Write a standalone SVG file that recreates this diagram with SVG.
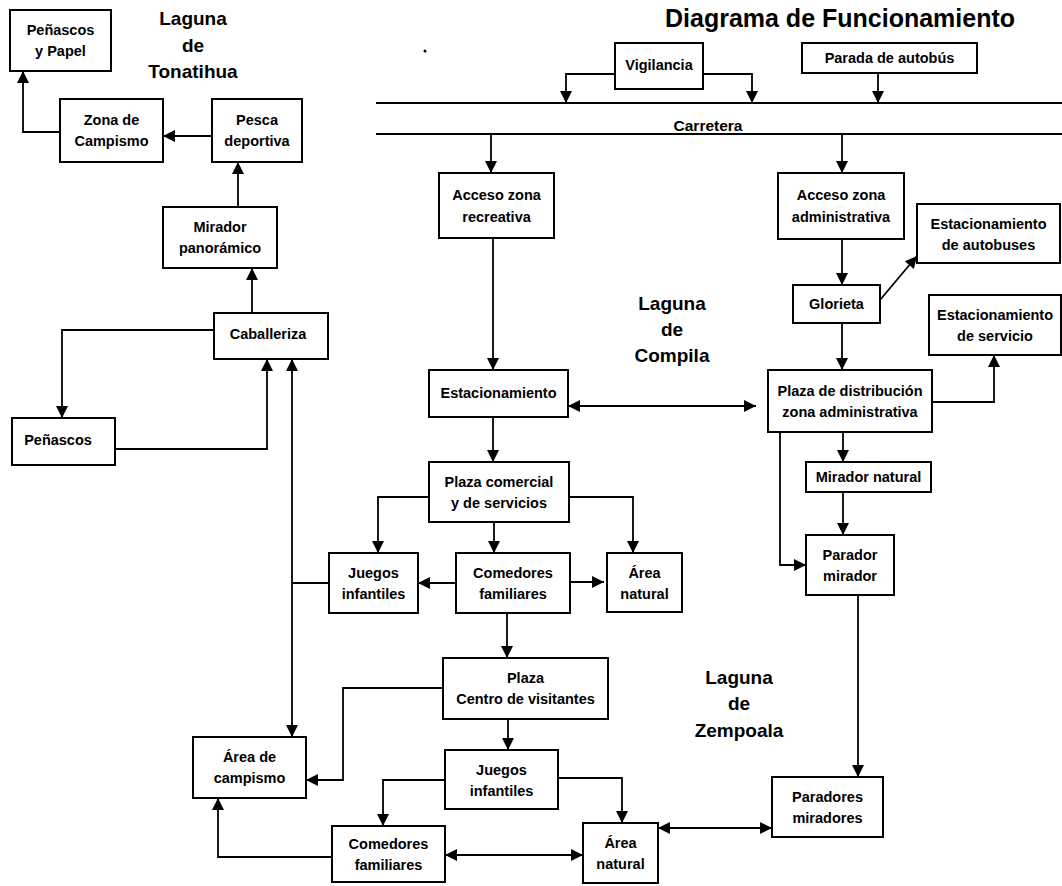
<svg xmlns="http://www.w3.org/2000/svg" width="1062" height="886" viewBox="0 0 1062 886">
<style>
.bx{fill:#fff;stroke:#000;stroke-width:2}
.t{font-family:"Liberation Sans",Arial,sans-serif;font-weight:bold;font-size:14.5px;text-anchor:middle;fill:#000}
.lg{font-family:"Liberation Sans",Arial,sans-serif;font-weight:bold;font-size:19px;text-anchor:middle;fill:#000}
.c{fill:none;stroke:#000;stroke-width:1.8}
</style>
<defs>
<marker id="a" markerUnits="userSpaceOnUse" markerWidth="12" markerHeight="12" refX="12" refY="6" orient="auto"><path d="M0,0 L12,6 L0,12 z" fill="#000"/></marker>
<marker id="s" markerUnits="userSpaceOnUse" markerWidth="12" markerHeight="12" refX="12" refY="6" orient="auto-start-reverse"><path d="M0,0 L12,6 L0,12 z" fill="#000"/></marker>
</defs>
<rect width="1062" height="886" fill="#fff"/>
<text x="840" y="27" font-family="Liberation Sans,Arial,sans-serif" font-weight="bold" font-size="25" text-anchor="middle" textLength="350" lengthAdjust="spacingAndGlyphs">Diagrama de Funcionamiento</text>
<g id="labels">
<text class="lg" x="193" y="25">Laguna</text><text class="lg" x="193" y="52">de</text><text class="lg" x="193" y="78">Tonatihua</text>
<text class="lg" x="672" y="310">Laguna</text><text class="lg" x="672" y="336">de</text><text class="lg" x="672" y="362">Compila</text>
<text class="lg" x="739" y="684">Laguna</text><text class="lg" x="739" y="710">de</text><text class="lg" x="739" y="737">Zempoala</text>
<circle cx="425" cy="51" r="1.5" fill="#000"/>
</g>
<g id="carretera">
<line x1="376" y1="103" x2="1062" y2="103" stroke="#000" stroke-width="2"/>
<line x1="376" y1="134" x2="1062" y2="134" stroke="#000" stroke-width="2"/>
<text class="t" x="708" y="131" style="font-size:15.5px">Carretera</text>
</g>
<g id="connectors">
<path class="c" d="M60,132 H23 V71" marker-end="url(#a)"/>
<path class="c" d="M212,136 H163" marker-end="url(#a)"/>
<path class="c" d="M238,207 V162" marker-end="url(#a)"/>
<path class="c" d="M252,313 V268" marker-end="url(#a)"/>
<path class="c" d="M214,330 H62 V418" marker-end="url(#a)"/>
<path class="c" d="M115,449 H267 V359" marker-end="url(#a)"/>
<path class="c" d="M292,359 V737" marker-start="url(#s)" marker-end="url(#s)"/>
<path class="c" d="M329,583 H292"/>
<path class="c" d="M615,74 H566 V103" marker-end="url(#a)"/>
<path class="c" d="M703,74 H752 V103" marker-end="url(#a)"/>
<path class="c" d="M878,73 V103" marker-end="url(#a)"/>
<path class="c" d="M491,134 V173" marker-end="url(#a)"/>
<path class="c" d="M842,134 V173" marker-end="url(#a)"/>
<path class="c" d="M493,238 V370" marker-end="url(#a)"/>
<path class="c" d="M842,239 V285" marker-end="url(#a)"/>
<path class="c" d="M880,300 L917,256" marker-end="url(#a)"/>
<path class="c" d="M842,323 V370" marker-end="url(#a)"/>
<path class="c" d="M932,402 H994 V355" marker-end="url(#a)"/>
<path class="c" d="M843,432 V462" marker-end="url(#a)"/>
<path class="c" d="M843,492 V535" marker-end="url(#a)"/>
<path class="c" d="M780,432 V565 H806" marker-end="url(#a)"/>
<path class="c" d="M568,406 H756" marker-start="url(#s)" marker-end="url(#s)"/>
<path class="c" d="M493,417 V462" marker-end="url(#a)"/>
<path class="c" d="M429,497 H378 V553" marker-end="url(#a)"/>
<path class="c" d="M569,497 H633 V553" marker-end="url(#a)"/>
<path class="c" d="M494,522 V553" marker-end="url(#a)"/>
<path class="c" d="M456,583 H418" marker-end="url(#a)"/>
<path class="c" d="M570,582 H604" marker-end="url(#a)"/>
<path class="c" d="M507,613 V658" marker-end="url(#a)"/>
<path class="c" d="M443,688 H343 V780 H306" marker-end="url(#a)"/>
<path class="c" d="M508,719 V750" marker-end="url(#a)"/>
<path class="c" d="M445,780 H383 V826" marker-end="url(#a)"/>
<path class="c" d="M558,778 H622 V823" marker-end="url(#a)"/>
<path class="c" d="M332,857 H218 V798" marker-end="url(#a)"/>
<path class="c" d="M445,855 H583" marker-start="url(#s)" marker-end="url(#s)"/>
<path class="c" d="M658,828 H772" marker-start="url(#s)" marker-end="url(#s)"/>
<path class="c" d="M858,595 V777" marker-end="url(#a)"/>
</g>
<g id="n-penascos-papel"><rect class="bx" x="10" y="10" width="101" height="61"/><text class="t" x="60.5" y="35">Peñascos</text><text class="t" x="60.5" y="56">y Papel</text></g>
<g id="n-zona-campismo"><rect class="bx" x="60" y="99" width="103" height="63"/><text class="t" x="111.5" y="125">Zona de</text><text class="t" x="111.5" y="146">Campismo</text></g>
<g id="n-pesca"><rect class="bx" x="212" y="99" width="90" height="63"/><text class="t" x="257" y="125">Pesca</text><text class="t" x="257" y="146">deportiva</text></g>
<g id="n-mirador-pan"><rect class="bx" x="163" y="207" width="114" height="61"/><text class="t" x="220" y="232">Mirador</text><text class="t" x="220" y="253">panorámico</text></g>
<g id="n-caballeriza"><rect class="bx" x="214" y="313" width="114" height="46"/><text class="t" x="268" y="339">Caballeriza</text></g>
<g id="n-penascos"><rect class="bx" x="12" y="418" width="103" height="47"/><text class="t" x="58" y="445">Peñascos</text></g>
<g id="n-vigilancia"><rect class="bx" x="615" y="43" width="88" height="46"/><text class="t" x="659" y="70">Vigilancia</text></g>
<g id="n-parada"><rect class="bx" x="802" y="43" width="175" height="30"/><text class="t" x="889.5" y="63">Parada de autobús</text></g>
<g id="n-acceso-rec"><rect class="bx" x="439" y="173" width="115" height="65"/><text class="t" x="496.5" y="200">Acceso zona</text><text class="t" x="496.5" y="222">recreativa</text></g>
<g id="n-acceso-adm"><rect class="bx" x="778" y="173" width="126" height="66"/><text class="t" x="841" y="200">Acceso zona</text><text class="t" x="841" y="222">administrativa</text></g>
<g id="n-est-autobuses"><rect class="bx" x="917" y="204" width="143" height="59"/><text class="t" x="988.5" y="229">Estacionamiento</text><text class="t" x="988.5" y="250">de autobuses</text></g>
<g id="n-glorieta"><rect class="bx" x="793" y="285" width="87" height="38"/><text class="t" x="836.5" y="309">Glorieta</text></g>
<g id="n-est-servicio"><rect class="bx" x="929" y="295" width="132" height="60"/><text class="t" x="995" y="320">Estacionamiento</text><text class="t" x="995" y="341">de servicio</text></g>
<g id="n-plaza-dist"><rect class="bx" x="768" y="370" width="164" height="62"/><text class="t" x="850" y="396">Plaza de distribución</text><text class="t" x="850" y="417">zona administrativa</text></g>
<g id="n-mirador-nat"><rect class="bx" x="806" y="462" width="125" height="30"/><text class="t" x="868.5" y="482">Mirador natural</text></g>
<g id="n-parador"><rect class="bx" x="806" y="535" width="88" height="60"/><text class="t" x="850" y="560">Parador</text><text class="t" x="850" y="581">mirador</text></g>
<g id="n-estacionamiento"><rect class="bx" x="429" y="370" width="139" height="47"/><text class="t" x="498.5" y="398">Estacionamiento</text></g>
<g id="n-plaza-com"><rect class="bx" x="429" y="462" width="140" height="60"/><text class="t" x="499" y="487">Plaza comercial</text><text class="t" x="499" y="508">y de servicios</text></g>
<g id="n-juegos1"><rect class="bx" x="329" y="553" width="89" height="60"/><text class="t" x="373.5" y="578">Juegos</text><text class="t" x="373.5" y="599">infantiles</text></g>
<g id="n-comedores1"><rect class="bx" x="456" y="553" width="114" height="60"/><text class="t" x="513" y="578">Comedores</text><text class="t" x="513" y="599">familiares</text></g>
<g id="n-area-nat1"><rect class="bx" x="607" y="553" width="75" height="59"/><text class="t" x="644.5" y="578">Área</text><text class="t" x="644.5" y="599">natural</text></g>
<g id="n-plaza-cv"><rect class="bx" x="443" y="658" width="165" height="61"/><text class="t" x="525.5" y="683">Plaza</text><text class="t" x="525.5" y="704">Centro de visitantes</text></g>
<g id="n-area-camp"><rect class="bx" x="193" y="737" width="113" height="61"/><text class="t" x="249.5" y="762">Área de</text><text class="t" x="249.5" y="783">campismo</text></g>
<g id="n-juegos2"><rect class="bx" x="445" y="750" width="113" height="59"/><text class="t" x="501.5" y="775">Juegos</text><text class="t" x="501.5" y="796">infantiles</text></g>
<g id="n-comedores2"><rect class="bx" x="332" y="826" width="113" height="56"/><text class="t" x="388.5" y="849">Comedores</text><text class="t" x="388.5" y="870">familiares</text></g>
<g id="n-area-nat2"><rect class="bx" x="583" y="823" width="75" height="60"/><text class="t" x="620.5" y="848">Área</text><text class="t" x="620.5" y="869">natural</text></g>
<g id="n-paradores"><rect class="bx" x="772" y="777" width="111" height="60"/><text class="t" x="827.5" y="802">Paradores</text><text class="t" x="827.5" y="823">miradores</text></g>
</svg>
